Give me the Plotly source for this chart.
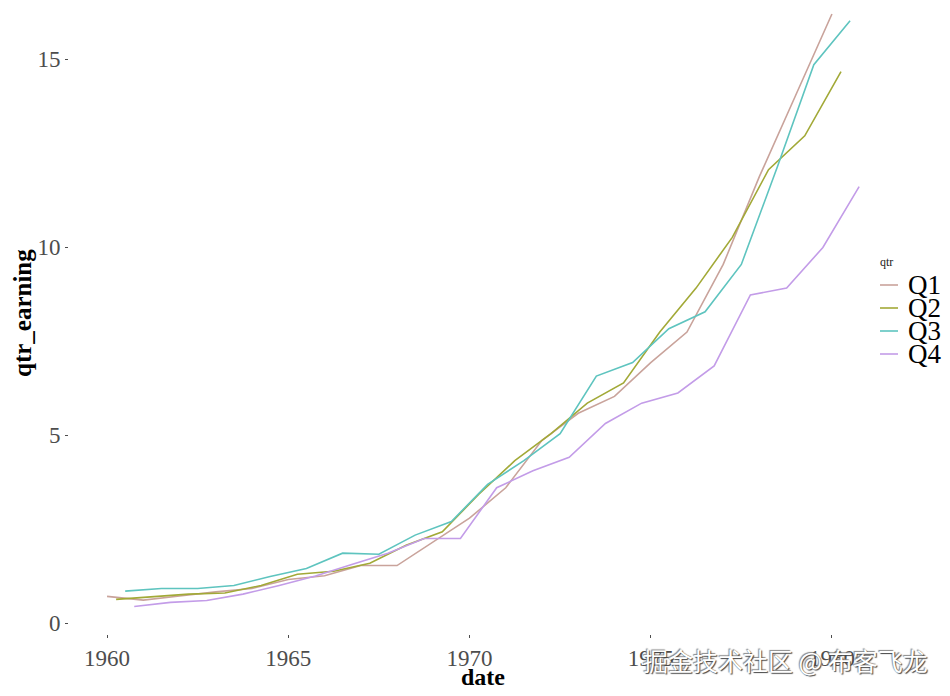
import plotly.graph_objects as go

# quarterly earnings per share, 1960-1980
years = list(range(1960, 1981))
q1 = [0.71, 0.61, 0.72, 0.83, 0.92, 1.16, 1.26, 1.53, 1.53, 2.16, 2.79,
      3.60, 4.86, 5.58, 6.03, 6.93, 7.74, 9.54, 11.88, 14.04, 16.20]
q2 = [0.63, 0.69, 0.77, 0.80, 1.00, 1.30, 1.38, 1.59, 2.07, 2.43, 3.42,
      4.32, 5.04, 5.85, 6.39, 7.74, 8.91, 10.26, 12.06, 12.96, 14.67]
q3 = [0.85, 0.92, 0.92, 1.00, 1.24, 1.45, 1.86, 1.83, 2.34, 2.70, 3.69,
      4.32, 5.04, 6.57, 6.93, 7.83, 8.28, 9.54, 12.15, 14.85, 16.02]
q4 = [0.44, 0.55, 0.60, 0.77, 1.00, 1.25, 1.56, 1.86, 2.25, 2.25, 3.60,
      4.05, 4.41, 5.31, 5.85, 6.12, 6.84, 8.73, 8.91, 9.99, 11.61]
quarters = ["Q1", "Q2", "Q3", "Q4"]
offsets = [0.0, 0.25, 0.5, 0.75]
colors = ["#C9A39B", "#A2A937", "#5EC4BF", "#C39CE8"]

# figure geometry (the page adds an 8px body margin, so the figure is a bit smaller)
W, H = 942, 688
L, R, T, B = 61, 80, 0, 62
PW, PH = W - L - R, H - T - B


def px(x):
    return (x - L) / PW


def py(y):
    return 1 - (y - T) / PH


serif = "Liberation Serif"
fig = go.Figure()
for name, vals, off, col in zip(quarters, [q1, q2, q3, q4], offsets, colors):
    fig.add_trace(go.Scatter(x=[y + off for y in years], y=vals, mode="lines",
                             name=name, line=dict(color=col, width=1.6)))

fig.update_layout(
    width=W, height=H,
    paper_bgcolor="white", plot_bgcolor="white",
    margin=dict(l=L, r=R, t=T, b=B),
    font=dict(family=serif, color="#4d4d4d"),
    showlegend=False,
    xaxis=dict(range=[1958.95, 1981.05], tickvals=[1960, 1965, 1970, 1975, 1980],
               showgrid=False, zeroline=False, showline=False,
               ticks="outside", ticklen=3, tickcolor="#4d4d4d",
               tickfont=dict(size=23, color="#4d4d4d")),
    yaxis=dict(range=[-0.29, 16.36], tickvals=[0, 5, 10, 15],
               showgrid=False, zeroline=False, showline=False,
               ticks="outside", ticklen=3, tickcolor="#4d4d4d",
               tickfont=dict(size=23, color="#4d4d4d")),
)

# axis titles
fig.add_annotation(text="<b>date</b>", xref="paper", yref="paper", x=px(475), y=py(669),
                   xanchor="center", yanchor="middle", showarrow=False,
                   font=dict(size=24, color="black", family=serif))
fig.add_annotation(text="<b>qtr_earning</b>", xref="paper", yref="paper", x=px(14), y=py(305),
                   xanchor="center", yanchor="middle", textangle=-90, showarrow=False,
                   font=dict(size=25, color="black", family=serif))

# legend drawn by hand so it can be as tight as the reference
fig.add_annotation(text="qtr", xref="paper", yref="paper", x=px(870), y=py(254),
                   xanchor="left", yanchor="middle", showarrow=False,
                   font=dict(size=12, color="#222", family=serif))
leg_y = [277, 300, 323, 346]
for name, col, ly in zip(quarters, colors, leg_y):
    fig.add_shape(type="line", xref="paper", yref="paper",
                  x0=px(872), x1=px(890), y0=py(ly), y1=py(ly),
                  line=dict(color=col, width=1.6))
    fig.add_annotation(text=name, xref="paper", yref="paper", x=px(898), y=py(ly),
                       xanchor="left", yanchor="middle", showarrow=False,
                       font=dict(size=27, color="black", family=serif))

fig.add_annotation(text="掘金技术社区 @ 布客飞龙", xref="paper", yref="paper",
                   x=px(922), y=py(652), xanchor="right", yanchor="middle", showarrow=False,
                   font=dict(family="Noto Sans CJK SC", size=25, color="white",
                             shadow="1px 1px 1px #444, -1px -1px 1px #888"))

fig.write_html("out.html")
